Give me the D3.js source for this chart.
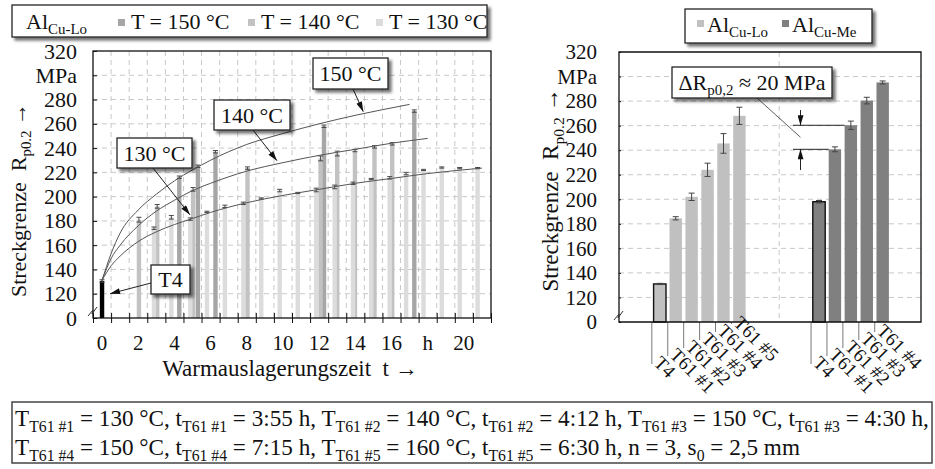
<!DOCTYPE html>
<html>
<head>
<meta charset="utf-8">
<script src="https://cdn.jsdelivr.net/npm/d3@7"></script>
<style>
body { margin: 0; background: #fff; }
svg { display: block; }
text { font-family: "Liberation Serif", "Times New Roman", serif; }
</style>
</head>
<body>
<svg id="chart" width="935" height="469"></svg>
<script>
// ---- left chart: Al Cu-Lo, Warmauslagerung bei 130/140/150 °C ----
var t4Time = 0, t4Value = 130.5, t4Err = 1;

var time150 = [4.27, 5.30, 6.27, 12.27, 17.26];
var value150 = [216, 225, 237, 258, 270.5];
var err150 = [1, 1, 1, 1, 1];

var time140 = [2.04, 3.05, 5.03, 8.04, 12.08, 13.0, 13.98, 15.06, 16.04];
var value140 = [181, 192, 206, 223.5, 231.5, 235.5, 238, 241, 243.5];
var err140 = [2, 1.5, 1.5, 1, 2, 2, 1, 1, 1];

var time130 = [2.87, 3.83, 4.88, 5.80, 6.79, 7.81, 8.80, 9.82, 10.82, 11.84, 12.86, 13.87, 14.88, 15.90, 16.81, 17.77, 18.78, 19.77, 20.76];
var value130 = [174, 183, 181.5, 187.5, 192, 194.5, 198.5, 205, 203, 205.5, 208, 211, 214.5, 215.5, 219, 222, 224, 223.5, 223.5];
var err130 = [1, 1.5, 1, 0.5, 1, 1, 0.5, 1, 0.5, 1.5, 1.5, 1, 0.5, 1, 1, 0.5, 0.5, 0.5, 0.5];

// trend curves
var fitTime150 = [0, 0.5, 1, 2, 3, 4, 5, 6, 8, 10, 12, 14, 17];
var fitValue150 = [131, 153, 170, 189, 202, 213, 222, 230, 243, 252, 260, 267, 276];
var fitTime140 = [0, 0.5, 1, 2, 3, 4, 5, 6, 8, 10, 12, 14, 16, 18];
var fitValue140 = [131, 149, 160, 176, 188, 197, 205, 211, 221, 228, 234, 239, 244, 248];
var fitTime130 = [0, 0.5, 1, 2, 3, 4, 5, 6, 8, 10, 12, 14, 16, 18, 21];
var fitValue130 = [131, 143, 151, 163, 171, 177, 182, 187, 195, 201, 206, 211, 215, 219, 223.5];

var yTicksLeft = [100, 120, 140, 160, 180, 200, 220, 240, 260, 280, 300, 320];
var xLabelsLeft = [0, 2, 4, 6, 8, 10, 12, 14, 16, 18, 20];

// ---- right chart: Al Cu-Lo vs Al Cu-Me ----
var loLabels = ["T4", "T61 #1", "T61 #2", "T61 #3", "T61 #4", "T61 #5"];
var loValues = [131, 184.5, 202, 224, 245.5, 268];
var loErr = [0.5, 1.3, 3, 5.4, 8, 7];
var meLabels = ["T4", "T61 #1", "T61 #2", "T61 #3", "T61 #4"];
var meValues = [198, 240.7, 260.3, 280.4, 295.2];
var meErr = [1, 2, 3.4, 2.7, 1.2];

var svg = d3.select("#chart");
var root = svg.append("g");
var defs = svg.append("defs");
var flt = defs.append("filter").attr("id", "shadow")
  .attr("x", "-10%").attr("y", "-20%").attr("width", "130%").attr("height", "160%");
flt.append("feGaussianBlur").attr("in", "SourceAlpha").attr("stdDeviation", 1.5).attr("result", "b");
flt.append("feOffset").attr("in", "b").attr("dx", 3).attr("dy", 3).attr("result", "o");
flt.append("feComponentTransfer").attr("in", "o").attr("result", "s")
  .append("feFuncA").attr("type", "linear").attr("slope", 0.55);
var fm = flt.append("feMerge");
fm.append("feMergeNode").attr("in", "s");
fm.append("feMergeNode").attr("in", "SourceGraphic");

defs.append("marker").attr("id", "arrow")
  .attr("viewBox", "0 0 10 6").attr("refX", 10).attr("refY", 3)
  .attr("markerWidth", 11).attr("markerHeight", 6).attr("markerUnits", "userSpaceOnUse")
  .attr("orient", "auto")
  .append("path").attr("d", "M0,0 L10,3 L0,6 Z").attr("fill", "#111");

// text with subscripts: parts = [[text, isSub], ...]
function rich(sel, parts, size) {
  var sub = false;
  parts.forEach(function(p) {
    var isSub = p[1] === 1;
    var ts = sel.append("tspan").text(p[0]).attr("font-size", isSub ? size * 0.68 : size);
    if (isSub && !sub) ts.attr("dy", size * 0.24);
    if (!isSub && sub) ts.attr("dy", -size * 0.24);
    sub = isSub;
  });
  return sel;
}

function shadowBox(g, x, y, w, h) {
  return g.append("rect").attr("x", x).attr("y", y).attr("width", w).attr("height", h)
    .attr("fill", "#fff").attr("stroke", "#222").attr("stroke-width", 1.3)
    .attr("filter", "url(#shadow)");
}

var colors = { c150: "#a6a6a6", c140: "#c2c2c2", c130: "#dcdcdc" };
var gridColor = "#c8c8c8";

// ================= LEFT =================
var xL = d3.scaleLinear().domain([-0.5, 21.5]).range([93, 491]);
var yL = d3.scaleLinear().domain([100, 320]).range([318, 51]);
var left = root.append("g");

// grid
left.append("g").selectAll("line").data(d3.range(0.5, 21, 1)).join("line")
  .attr("x1", d => xL(d)).attr("x2", d => xL(d)).attr("y1", yL(320)).attr("y2", yL(100))
  .attr("stroke", gridColor).attr("stroke-dasharray", "5,4");
left.append("g").selectAll("line").data(d3.range(120, 301, 20)).join("line")
  .attr("x1", xL(-0.5)).attr("x2", xL(21.5)).attr("y1", d => yL(d)).attr("y2", d => yL(d))
  .attr("stroke", gridColor).attr("stroke-dasharray", "5,4");

var barW = 4.4;
function drawBars(g, times, vals, errs, fill) {
  var data = times.map(function(t, i) { return { t: t, v: vals[i], e: errs[i] }; });
  g.append("g").selectAll("rect").data(data).join("rect")
    .attr("x", d => xL(d.t) - barW / 2).attr("width", barW)
    .attr("y", d => yL(d.v)).attr("height", d => yL(100) - yL(d.v))
    .attr("fill", fill);
  var eb = g.append("g").attr("stroke", "#4a4a4a").attr("stroke-width", 1);
  eb.selectAll("line.v").data(data).join("line").attr("class", "v")
    .attr("x1", d => xL(d.t)).attr("x2", d => xL(d.t))
    .attr("y1", d => yL(d.v + d.e)).attr("y2", d => yL(d.v - d.e));
  eb.selectAll("line.t").data(data).join("line").attr("class", "t")
    .attr("x1", d => xL(d.t) - 2.5).attr("x2", d => xL(d.t) + 2.5)
    .attr("y1", d => yL(d.v + d.e)).attr("y2", d => yL(d.v + d.e));
  eb.selectAll("line.b").data(data).join("line").attr("class", "b")
    .attr("x1", d => xL(d.t) - 2.5).attr("x2", d => xL(d.t) + 2.5)
    .attr("y1", d => yL(d.v - d.e)).attr("y2", d => yL(d.v - d.e));
}
drawBars(left, time150, value150, err150, colors.c150);
drawBars(left, time140, value140, err140, colors.c140);
drawBars(left, time130, value130, err130, colors.c130);
drawBars(left, [t4Time], [t4Value], [t4Err], "#000");

// trend curves
var curve = d3.line().x(d => xL(d[0])).y(d => yL(d[1])).curve(d3.curveMonotoneX);
[[fitTime150, fitValue150], [fitTime140, fitValue140], [fitTime130, fitValue130]].forEach(function(c) {
  left.append("path").attr("d", curve(c[0].map((t, i) => [t, c[1][i]])))
    .attr("fill", "none").attr("stroke", "#555").attr("stroke-width", 1);
});

// frame + axes
left.append("rect").attr("x", xL(-0.5)).attr("y", yL(320))
  .attr("width", xL(21.5) - xL(-0.5)).attr("height", yL(100) - yL(320))
  .attr("fill", "none").attr("stroke", "#111").attr("stroke-width", 1.3);

var yAxisL = left.append("g").attr("transform", "translate(" + xL(-0.5) + ",0)")
  .call(d3.axisLeft(yL).tickValues(yTicksLeft).tickSizeOuter(0).tickSizeInner(5)
    .tickFormat(d => d === 100 ? "0" : d === 300 ? "MPa" : d));
yAxisL.attr("font-family", null).attr("font-size", null);
yAxisL.select(".domain").remove();
yAxisL.selectAll(".tick line").attr("x2", 4).attr("stroke", "#111");
yAxisL.selectAll(".tick text").attr("font-size", 22).attr("fill", "#111").attr("x", -16);

var xAxisL = left.append("g").attr("transform", "translate(0," + yL(100) + ")")
  .call(d3.axisBottom(xL).tickValues(d3.range(-0.5, 21.6, 1)).tickSizeOuter(0).tickSize(5).tickFormat(""));
xAxisL.select(".domain").remove();
xAxisL.selectAll(".tick line").attr("y1", -5).attr("stroke", "#111");
left.append("g").selectAll("text").data(xLabelsLeft).join("text")
  .attr("x", d => xL(d)).attr("y", 350).attr("text-anchor", "middle")
  .attr("font-size", 21).attr("fill", "#111").text(d => d === 18 ? "h" : d);

// axis break
left.append("path").attr("d", "M88,316 L93,310 L92,314 L97,307")
  .attr("fill", "none").attr("stroke", "#333").attr("stroke-width", 1);

// titles
rich(left.append("text").attr("transform", "translate(26,200) rotate(-90)")
  .attr("text-anchor", "middle").attr("fill", "#111"),
  [["Streckgrenze\u00a0\u00a0R", 0], ["p0.2", 1], ["\u00a0\u2192", 0]], 22);
left.append("text").attr("x", 290).attr("y", 376).attr("text-anchor", "middle")
  .attr("font-size", 23).attr("fill", "#111").text("Warmauslagerungszeit\u00a0\u00a0t \u2192");

// callouts
var callouts = [
  { label: "150 °C", box: [313, 58, 75, 31], from: [353, 89], tip: [14.44, 270] },
  { label: "140 °C", box: [214, 100, 76, 30], from: [253, 130], tip: [9.67, 229.6] },
  { label: "130 °C", box: [117, 138, 75, 30], from: [153, 168], tip: [4.86, 185] },
  { label: "T4", box: [151, 265, 39, 29], from: [151, 283], tip: [0.44, 120] }
];
callouts.forEach(function(c) {
  left.append("line").attr("x1", c.from[0]).attr("y1", c.from[1])
    .attr("x2", xL(c.tip[0])).attr("y2", yL(c.tip[1]))
    .attr("stroke", "#222").attr("stroke-width", 1).attr("marker-end", "url(#arrow)");
  shadowBox(left, c.box[0], c.box[1], c.box[2], c.box[3]);
  left.append("text").attr("x", c.box[0] + c.box[2] / 2).attr("y", c.box[1] + c.box[3] / 2 + 7.5)
    .attr("text-anchor", "middle").attr("font-size", 22).attr("fill", "#111").text(c.label);
});

// legend left
var legL = root.append("g");
shadowBox(legL, 12, 5, 475, 32);
rich(legL.append("text").attr("x", 26).attr("y", 29).attr("fill", "#111"), [["Al", 0], ["Cu-Lo", 1]], 22);
[["T = 150 °C", colors.c150, 118], ["T = 140 °C", colors.c140, 248], ["T = 130 °C", colors.c130, 376]].forEach(function(it) {
  legL.append("rect").attr("x", it[2]).attr("y", 19).attr("width", 7).attr("height", 7).attr("fill", it[1]);
  legL.append("text").attr("x", it[2] + 13).attr("y", 29).attr("font-size", 22).attr("fill", "#111").text(it[0]);
});

// ================= RIGHT =================
var right = root.append("g");
var yR = d3.scaleLinear().domain([100, 320]).range([322, 52]);
var xGroup = d3.scaleBand().domain(["Lo", "Me"]).range([620, 938.4]);
var gap = xGroup.bandwidth() * 0.2;
var xSlot = d3.scaleBand().domain(d3.range(6)).range([gap, xGroup.bandwidth() - gap]).paddingInner(0.22).paddingOuter(0.11);
var frameL = 619, frameR = 921;

right.append("g").selectAll("line").data(d3.range(120, 301, 20)).join("line")
  .attr("x1", frameL).attr("x2", frameR).attr("y1", d => yR(d)).attr("y2", d => yR(d))
  .attr("stroke", gridColor).attr("stroke-dasharray", "5,4");
right.append("line").attr("x1", xGroup("Me")).attr("x2", xGroup("Me")).attr("y1", yR(320)).attr("y2", yR(100))
  .attr("stroke", gridColor).attr("stroke-dasharray", "5,4");

var groups = [
  { key: "Lo", labels: loLabels, values: loValues, errs: loErr, fill: "#c0c0c0" },
  { key: "Me", labels: meLabels, values: meValues, errs: meErr, fill: "#808080" }
];
var slotStep = xSlot.step();
groups.forEach(function(gr) {
  var data = gr.values.map(function(v, i) { return { i: i, v: v, e: gr.errs[i], label: gr.labels[i] }; });
  var x0 = xGroup(gr.key);
  var bx = d => x0 + xSlot(d.i);
  var cx = d => bx(d) + xSlot.bandwidth() / 2;
  right.append("g").selectAll("rect").data(data).join("rect")
    .attr("x", bx).attr("width", xSlot.bandwidth())
    .attr("y", d => yR(d.v)).attr("height", d => yR(100) - yR(d.v))
    .attr("fill", gr.fill)
    .attr("stroke", d => d.label === "T4" ? "#111" : "none").attr("stroke-width", 1.4);
  var eb = right.append("g").attr("stroke", "#444").attr("stroke-width", 1);
  data.forEach(function(d) {
    eb.append("line").attr("x1", cx(d)).attr("x2", cx(d)).attr("y1", yR(d.v + d.e)).attr("y2", yR(d.v - d.e));
    eb.append("line").attr("x1", cx(d) - 3).attr("x2", cx(d) + 3).attr("y1", yR(d.v + d.e)).attr("y2", yR(d.v + d.e));
    eb.append("line").attr("x1", cx(d) - 3).attr("x2", cx(d) + 3).attr("y1", yR(d.v - d.e)).attr("y2", yR(d.v - d.e));
  });
  // leader lines + rotated labels
  data.forEach(function(d) {
    var lx = bx(d) - (slotStep - xSlot.bandwidth()) / 2;
    var bottom = 364 - 8 * d.i;
    right.append("line").attr("x1", lx).attr("x2", lx).attr("y1", yR(100)).attr("y2", bottom)
      .attr("stroke", "#555").attr("stroke-width", 0.8);
    right.append("text").attr("transform", "translate(" + (lx + 1) + "," + bottom + ") rotate(45)")
      .attr("font-size", 19).attr("fill", "#111").text(d.label);
  });
});

// frame
right.append("path").attr("d", "M" + frameL + "," + yR(100) + " V" + yR(320) + " H" + frameR + " V" + yR(100) + " Z")
  .attr("fill", "none").attr("stroke", "#111").attr("stroke-width", 1.3);
var yAxisR = right.append("g").attr("transform", "translate(" + frameL + ",0)")
  .call(d3.axisLeft(yR).tickValues(yTicksLeft).tickSizeOuter(0).tickSizeInner(5)
    .tickFormat(d => d === 100 ? "0" : d === 300 ? "MPa" : d));
yAxisR.attr("font-family", null).attr("font-size", null);
yAxisR.select(".domain").remove();
yAxisR.selectAll(".tick line").attr("x2", 2).attr("stroke", "#111");
yAxisR.selectAll(".tick text").attr("font-size", 21).attr("fill", "#111").attr("x", -22);
right.append("path").attr("d", "M614,320 L619,314 L618,318 L623,311")
  .attr("fill", "none").attr("stroke", "#333").attr("stroke-width", 1);

rich(right.append("text").attr("transform", "translate(558,190) rotate(-90)")
  .attr("text-anchor", "middle").attr("fill", "#111"),
  [["Streckgrenze\u00a0\u00a0R", 0], ["p0.2", 1], ["\u00a0\u2192", 0]], 23);

// delta annotation
var me1x = xGroup("Me") + xSlot(1), me2x = xGroup("Me") + xSlot(2);
var dimX = 800.5;
right.append("line").attr("x1", 793).attr("x2", me2x).attr("y1", yR(meValues[2])).attr("y2", yR(meValues[2])).attr("stroke", "#222");
right.append("line").attr("x1", 793).attr("x2", me1x).attr("y1", yR(meValues[1])).attr("y2", yR(meValues[1])).attr("stroke", "#222");
right.append("line").attr("x1", dimX).attr("x2", dimX).attr("y1", 110).attr("y2", yR(meValues[2]))
  .attr("stroke", "#222").attr("marker-end", "url(#arrow)");
right.append("line").attr("x1", dimX).attr("x2", dimX).attr("y1", 170).attr("y2", yR(meValues[1]))
  .attr("stroke", "#222").attr("marker-end", "url(#arrow)");
right.append("line").attr("x1", 757).attr("y1", 98).attr("x2", dimX).attr("y2", (yR(meValues[1]) + yR(meValues[2])) / 2)
  .attr("stroke", "#333").attr("stroke-width", 0.8);
shadowBox(right, 672, 67, 160, 31);
rich(right.append("text").attr("x", 752).attr("y", 90).attr("text-anchor", "middle").attr("fill", "#111"),
  [["\u0394R", 0], ["p0,2", 1], [" \u2248 20 MPa", 0]], 22);

// legend right
var legR = root.append("g");
shadowBox(legR, 685, 9, 187, 34);
[["Cu-Lo", "#c0c0c0", 697], ["Cu-Me", "#808080", 782]].forEach(function(it) {
  legR.append("rect").attr("x", it[2]).attr("y", 20).attr("width", 7).attr("height", 7).attr("fill", it[1]);
  rich(legR.append("text").attr("x", it[2] + 10).attr("y", 32).attr("fill", "#111"), [["Al", 0], [it[0], 1]], 22);
});

// ================= bottom note =================
var note = root.append("g");
note.append("rect").attr("x", 12).attr("y", 402).attr("width", 920).attr("height", 61)
  .attr("fill", "#fff").attr("stroke", "#444").attr("stroke-width", 1.5);
var noteLines = [
  { y: 426, parts: [["T", 0], ["T61 #1", 1], [" = 130 °C, t", 0], ["T61 #1", 1], [" = 3:55 h, T", 0], ["T61 #2", 1],
    [" = 140 °C, t", 0], ["T61 #2", 1], [" = 4:12 h, T", 0], ["T61 #3", 1], [" = 150 °C, t", 0], ["T61 #3", 1], [" = 4:30 h,", 0]] },
  { y: 455, parts: [["T", 0], ["T61 #4", 1], [" = 150 °C, t", 0], ["T61 #4", 1], [" = 7:15 h, T", 0], ["T61 #5", 1],
    [" = 160 °C, t", 0], ["T61 #5", 1], [" = 6:30 h, n = 3, s", 0], ["0", 1], [" = 2,5 mm", 0]] }
];
// size the note font so the first line fills the box width
var probe = rich(note.append("text").attr("x", 0).attr("y", -100), noteLines[0].parts, 23);
var noteSize = 23 * 914 / probe.node().getComputedTextLength();
probe.remove();
noteLines.forEach(function(l) {
  rich(note.append("text").attr("x", 15).attr("y", l.y).attr("fill", "#111"), l.parts, noteSize);
});
</script>
</body>
</html>
